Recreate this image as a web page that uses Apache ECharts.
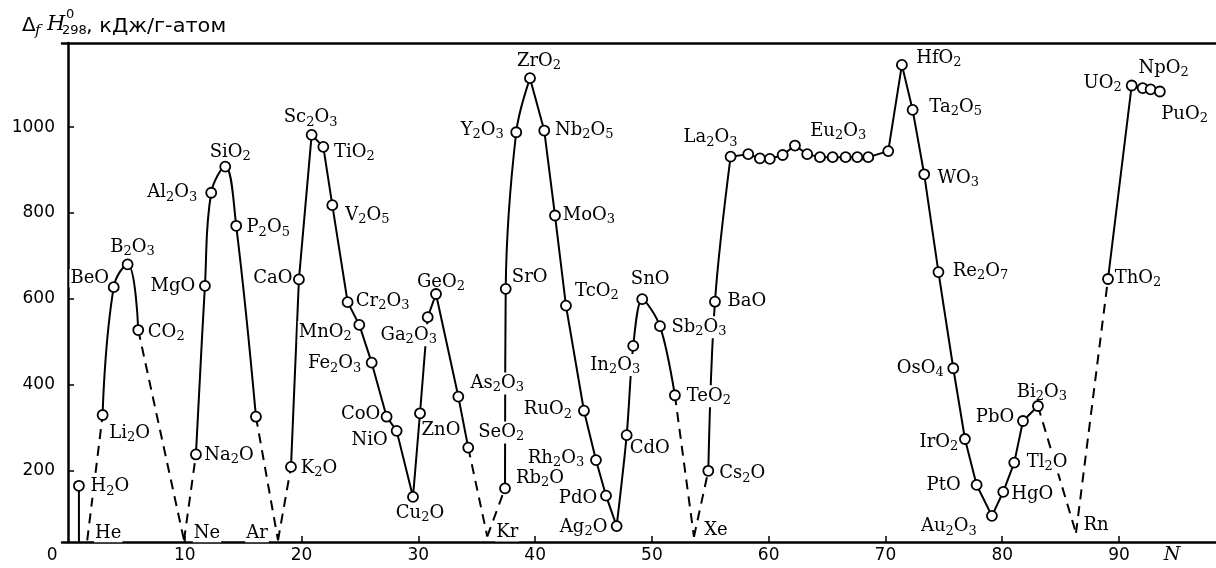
<!DOCTYPE html>
<html><head><meta charset="utf-8">
<script src="https://cdn.jsdelivr.net/npm/echarts@6/dist/echarts.min.js"></script>
<style>html,body{margin:0;padding:0;background:#fff}#c{width:1216px;height:568px}</style>
</head><body><div id="c"></div>
<script>
// ---- data ----
const oxideNames = ['H2O','Li2O','BeO','B2O3','CO2','Na2O','MgO','Al2O3','SiO2','P2O5','SO3',
  'K2O','CaO','Sc2O3','TiO2','V2O5','Cr2O3','MnO2','Fe2O3','CoO','NiO','Cu2O','ZnO','Ga2O3','GeO2','As2O3','SeO2',
  'Rb2O','SrO','Y2O3','ZrO2','Nb2O5','MoO3','TcO2','RuO2','Rh2O3','PdO','Ag2O','CdO','In2O3','SnO','Sb2O3','TeO2',
  'Cs2O','BaO','La2O3','Ce2O3','Pr2O3','Nd2O3','Pm2O3','Sm2O3','Eu2O3','Gd2O3','Tb2O3','Dy2O3','Ho2O3','Er2O3','Lu2O3',
  'HfO2','Ta2O5','WO3','Re2O7','OsO4','IrO2','PtO','Au2O3','HgO','Tl2O','PbO','Bi2O3',
  'ThO2','UO2','NpO2','PuO2','AmO2'];
const oxideN = [0.93,2.96,3.91,5.10,6.01,10.95,11.72,12.26,13.46,14.40,16.09,
  19.09,19.77,20.86,21.86,22.63,23.94,24.94,26.00,27.28,28.14,29.54,30.14,30.80,31.51,33.42,34.27,
  37.42,37.48,38.38,39.56,40.78,41.70,42.64,44.18,45.21,46.07,46.98,47.84,48.40,49.17,50.69,51.97,
  54.83,55.40,56.74,58.25,59.25,60.10,61.20,62.25,63.30,64.39,65.48,66.59,67.59,68.53,70.24,
  71.41,72.33,73.32,74.54,75.81,76.81,77.81,79.12,80.09,81.03,81.78,83.06,
  89.06,91.09,92.03,92.71,93.50];
const oxideH = [164,329,627,680,527,237,630,847,908,770,325,
  208,645,982,954,818,592,539,451,325,292,138,333,557,611,372,253,
  158,623,988,1114,992,794,584,339,224,141,70,282,490,599,536,375,
  199,593,931,937,927,926,935,957,937,930,930,930,930,930,944,
  1145,1040,890,662,438,273,166,94,150,218,315,350,
  646,1097,1091,1088,1083];
const nobleNames = ['He','Ne','Ar','Kr','Xe','Rn'];
const nobleN = [1.64,9.93,17.98,35.90,53.60,86.32];
const nobleH = [37,37,37,46,45,54];
const xTickLabels = [0,10,20,30,40,50,60,70,80,90];
const yTickLabels = [200,400,600,800,1000];

// ---- connectivity ----
const solidChains = [
  ['Li2O','BeO','B2O3','CO2'],
  ['Na2O','MgO','Al2O3','SiO2','P2O5','SO3'],
  ['K2O','CaO','Sc2O3','TiO2','V2O5','Cr2O3','MnO2','Fe2O3','CoO','NiO','Cu2O','ZnO','Ga2O3','GeO2','As2O3','SeO2'],
  ['Rb2O','SrO','Y2O3','ZrO2'],
  ['ZrO2','Nb2O5','MoO3','TcO2','RuO2','Rh2O3','PdO','Ag2O'],
  ['Ag2O','CdO','In2O3','SnO','Sb2O3','TeO2'],
  ['Cs2O','BaO','La2O3'],
  ['La2O3','Ce2O3','Pr2O3','Nd2O3','Pm2O3','Sm2O3','Eu2O3','Gd2O3','Tb2O3','Dy2O3','Ho2O3','Er2O3','Lu2O3',
   'HfO2','Ta2O5','WO3','Re2O7','OsO4','IrO2','PtO','Au2O3','HgO','Tl2O','PbO','Bi2O3'],
  ['ThO2','UO2','NpO2','PuO2','AmO2']
];
const dashedLinks = [['He','Li2O'],['CO2','Ne'],['Ne','Na2O'],['SO3','Ar'],['Ar','K2O'],
  ['SeO2','Kr'],['Kr','Rb2O'],['TeO2','Xe'],['Xe','Cs2O'],['Bi2O3','Rn'],['Rn','ThO2']];
const dropName = 'H2O';

// ---- styling: smoothing per chain, label offsets (px) ----
const chainSmooth = [0.45,0.4,0,0.35,0,0.3,0.35,0,0];
const labelOffset = {
  H2O:[31,1],Li2O:[27,18],BeO:[-24,-9],B2O3:[5,-17],CO2:[28,2],Na2O:[33,1],MgO:[-32,0],Al2O3:[-39,0],
  SiO2:[5,-14],P2O5:[32,2],K2O:[28,1],CaO:[-26,-1],Sc2O3:[-1,-17],TiO2:[31,5],V2O5:[35,10],Cr2O3:[35,-1],
  MnO2:[-34,7],Fe2O3:[-37,1],CoO:[-26,-2],NiO:[-27,9],Cu2O:[7,16],ZnO:[21,17],Ga2O3:[-19,18],GeO2:[5,-12],
  As2O3:[39,-13],SeO2:[33,-15],Rb2O:[35,-10],SrO:[24,-12],Y2O3:[-34,-2],ZrO2:[9,-17],Nb2O5:[40,0],MoO3:[34,0],
  TcO2:[31,-14],RuO2:[-36,-1],Rh2O3:[-40,-2],PdO:[-28,3],Ag2O:[-33,1],CdO:[23,13],In2O3:[-18,19],SnO:[8,-20],
  Sb2O3:[39,1],TeO2:[34,1],Cs2O:[34,3],BaO:[32,0],La2O3:[-20,-19],Eu2O3:[31,-23],HfO2:[37,-7],Ta2O5:[43,-3],
  WO3:[34,4],Re2O7:[42,-1],OsO4:[-33,0],IrO2:[-26,3],PtO:[-33,0],Au2O3:[-43,11],HgO:[29,3],Tl2O:[33,0],
  PbO:[-28,-4],Bi2O3:[4,-14],ThO2:[30,-1],UO2:[-29,-2],NpO2:[21,-20],PuO2:[34,25],
  He:[21,-7],Ne:[23,-7],Ar:[-21,-7],Kr:[20,-4],Xe:[22,-7],Rn:[20,-8]
};

const Y_MIN = 33, Y_MAX = 1196, X_MIN = -0.52, X_MAX = 98.31;
const INK = '#000';

const pts = {};
oxideNames.forEach((n,i)=>{ pts[n] = [oxideN[i], oxideH[i]]; });
nobleNames.forEach((n,i)=>{ pts[n] = [nobleN[i], nobleH[i]]; });

const series = [];
solidChains.forEach((ch,i)=>{
  series.push({type:'line', data: ch.map(n=>pts[n]), showSymbol:false, smooth: chainSmooth[i],
    lineStyle:{color:INK,width:2}, z:2, silent:true, animation:false});
});
series.push({type:'line', data:[pts[dropName],[pts[dropName][0],Y_MIN]], showSymbol:false,
  lineStyle:{color:INK,width:2}, z:2, animation:false});
dashedLinks.forEach(l=>{
  series.push({type:'line', data: l.map(n=>pts[n]), showSymbol:false,
    lineStyle:{color:INK,width:2,type:[10,7]}, z:2, animation:false});
});
// circles drawn above the label boxes
series.push({type:'scatter', data: oxideNames.map(n=>pts[n]), symbol:'circle', symbolSize:10,
  itemStyle:{color:'#fff', borderColor:INK, borderWidth:1.8, opacity:1}, z:7, animation:false});

const labelData = [];
oxideNames.concat(nobleNames).forEach(n=>{
  if (!labelOffset[n]) return;
  labelData.push({name:n, value:pts[n], label:{offset:labelOffset[n]}});
});
series.push({type:'scatter', data: labelData, symbol:'circle', symbolSize:0.01,
  itemStyle:{color:'#fff', opacity:1}, z:6, animation:false,
  label:{show:true, position:'inside', color:'#000', opacity:1, textBorderWidth:0, textShadowBlur:0,
    fontFamily:'DejaVu Serif', fontSize:18,
    backgroundColor:'#fff', padding:[0,1,0,1],
    formatter: p => p.name.replace(/(\d+)/g,'{s|$1}'),
    rich:{ s:{fontFamily:'DejaVu Serif', fontSize:13, color:'#000', textBorderWidth:0, padding:[9,0,0,0]} }
  }});

const chart = echarts.init(document.getElementById('c'), null, {renderer:'canvas'});
chart.setOption({
  animation:false,
  backgroundColor:'#fff',
  grid:{left:62, right:0, top:43, bottom:26, containLabel:false},
  xAxis:[{
    type:'value', min:X_MIN, max:X_MAX,
    axisLine:{lineStyle:{color:INK,width:2.5}},
    axisTick:{inside:true, length:6, customValues:xTickLabels.slice(1), lineStyle:{color:INK,width:1.5}},
    axisLabel:{customValues:xTickLabels, color:INK, fontFamily:'DejaVu Sans', fontSize:17, margin:5,
      formatter: v => v===0 ? '{z|0}' : String(v),
      rich:{z:{fontFamily:'DejaVu Sans', fontSize:17, color:INK, padding:[0,32,0,0]}}},
    splitLine:{show:false}
  },{
    type:'value', position:'top', min:X_MIN, max:X_MAX,
    axisLine:{lineStyle:{color:INK,width:2.5}}, axisTick:{show:false}, axisLabel:{show:false}, splitLine:{show:false}
  }],
  yAxis:{
    type:'value', min:Y_MIN, max:Y_MAX,
    axisLine:{show:true, lineStyle:{color:INK,width:2.5}},
    axisTick:{show:true, inside:true, length:6, customValues:yTickLabels, lineStyle:{color:INK,width:1.5}},
    axisLabel:{customValues:yTickLabels, color:INK, fontFamily:'DejaVu Sans', fontSize:17, margin:7,
      formatter: v => String(v)},
    splitLine:{show:false}
  },
  graphic:[
    {type:'text', x:22, y:26, style:{text:'Δ', font:'20px "DejaVu Sans"', fill:INK, verticalAlign:'middle'}},
    {type:'text', x:35, y:31, style:{text:'f', font:'italic 15px "DejaVu Serif"', fill:INK, verticalAlign:'middle'}},
    {type:'text', x:47, y:25, style:{text:'H', font:'italic 21px "DejaVu Serif"', fill:INK, verticalAlign:'middle'}},
    {type:'text', x:66, y:15, style:{text:'0', font:'13px "DejaVu Sans"', fill:INK, verticalAlign:'middle'}},
    {type:'text', x:62, y:31, style:{text:'298', font:'13px "DejaVu Sans"', fill:INK, verticalAlign:'middle'}},
    {type:'text', x:86, y:27, scaleX:1.1, style:{text:', кДж/г-атом', font:'19px "DejaVu Sans"', fill:INK, verticalAlign:'middle'}},
    {type:'text', x:1172, y:555, style:{text:'N', font:'italic 19px "DejaVu Serif"', fill:INK, align:'center', verticalAlign:'middle'}}
  ],
  series: series
});
</script></body></html>
